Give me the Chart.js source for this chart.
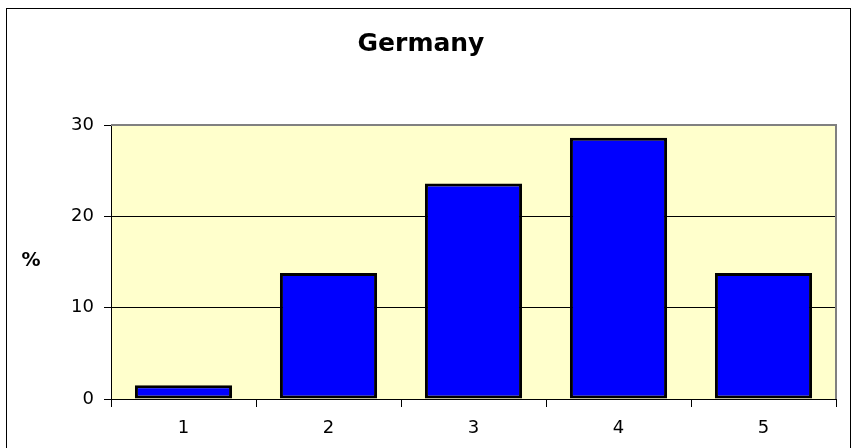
<!DOCTYPE html>
<html>
<head>
<meta charset="utf-8">
<script src="https://cdn.jsdelivr.net/npm/chart.js@4"></script>
<style>
  html, body { margin: 0; padding: 0; background: #fff; }
  #wrap { width: 853px; height: 448px; }
</style>
</head>
<body>
<div id="wrap"><canvas id="germanyChart" width="853" height="448"></canvas></div>
<script>
const categories = ['1', '2', '3', '4', '5'];
const percentValues = [1.5, 13.8, 23.6, 28.6, 13.8];
const yTicks = [0, 10, 20, 30];

const fontFamily = '"DejaVu Sans", Arial, sans-serif';

// plot background, grey frame, outer border and the "%" label
const framePlugin = {
    id: 'frame',
    beforeDraw(chart) {
        const { ctx, chartArea: a } = chart;
        ctx.save();
        ctx.fillStyle = '#FFFFCC';
        ctx.fillRect(a.left, a.top, a.right - a.left, a.bottom - a.top);
        ctx.restore();
    },
    afterDraw(chart) {
        const { ctx, chartArea: a } = chart;
        ctx.save();
        ctx.strokeStyle = '#808080';
        ctx.lineWidth = 2;
        ctx.beginPath();
        ctx.moveTo(a.left, a.top);
        ctx.lineTo(a.right, a.top);
        ctx.lineTo(a.right, a.bottom);
        ctx.stroke();
        ctx.strokeStyle = '#000';
        ctx.lineWidth = 1;
        ctx.strokeRect(6.5, 8.5, 844, 460);
        ctx.fillStyle = '#000';
        ctx.font = 'bold 19px ' + fontFamily;
        ctx.textAlign = 'center';
        ctx.textBaseline = 'middle';
        ctx.fillText('%', 31, 261);
        ctx.restore();
    }
};

const ctx = document.getElementById('germanyChart').getContext('2d');
const germanyChart = new Chart(ctx, {
    type: 'bar',
    data: {
        labels: categories,
        datasets: [{
            label: 'Germany',
            data: percentValues,
            backgroundColor: '#0000FF',
            borderColor: '#000000',
            borderWidth: 3,
            borderSkipped: false,
            categoryPercentage: 1.0,
            barPercentage: 0.67
        }]
    },
    options: {
        responsive: false,
        animation: false,
        devicePixelRatio: 1,
        layout: { padding: { left: 6, right: 17, top: 8, bottom: 0 } },
        plugins: {
            legend: { display: false },
            tooltip: { enabled: false },
            title: {
                display: true,
                text: 'Germany',
                color: '#000',
                font: { family: fontFamily, size: 25, weight: 'bold' },
                padding: { top: 21, bottom: 66 }
            }
        },
        scales: {
            x: {
                grid: { offset: true, drawOnChartArea: false, color: '#000', tickLength: 8 },
                border: { color: '#000', width: 1 },
                ticks: {
                    color: '#000',
                    padding: 11,
                    font: { family: fontFamily, size: 18 }
                },
                afterFit(scale) { scale.height = 49; }
            },
            y: {
                min: 0,
                max: 30,
                afterBuildTicks(scale) { scale.ticks = yTicks.map(v => ({ value: v })); },
                grid: { color: '#000', lineWidth: 1, tickLength: 7 },
                border: { color: '#000', width: 1 },
                ticks: {
                    color: '#000',
                    padding: 10,
                    font: { family: fontFamily, size: 18 }
                },
                afterFit(scale) { scale.width = 105; }
            }
        }
    },
    plugins: [framePlugin]
});
</script>
</body>
</html>
